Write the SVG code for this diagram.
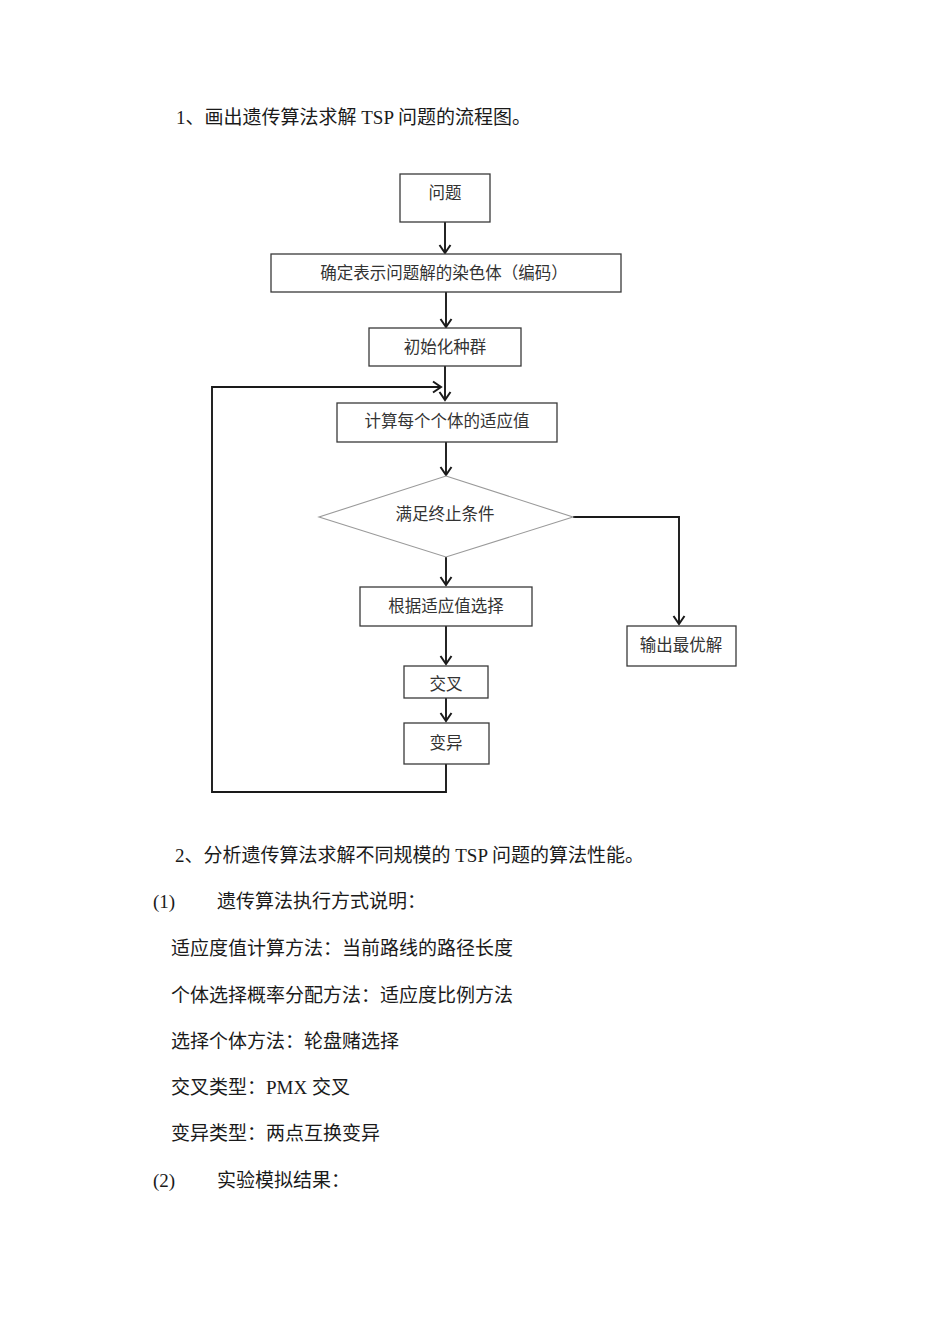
<svg xmlns="http://www.w3.org/2000/svg" width="950" height="1344" viewBox="0 0 950 1344">
  <defs>
    <style>
      .box { fill: #ffffff; stroke: #3a3a3a; stroke-width: 1.3; }
      .dia { fill: #ffffff; stroke: #9a9a9a; stroke-width: 1.1; }
      .lbl { font-family: "Liberation Serif", "Noto Sans CJK SC", serif; font-size: 16.5px; fill: #333333; text-anchor: middle; }
      .body { font-family: "Liberation Serif", "Noto Sans CJK SC", serif; font-size: 19px; fill: #1a1a1a; }
      .conn { fill: none; stroke: #1a1a1a; stroke-width: 1.9; }
    </style>
    <marker id="arr" markerUnits="userSpaceOnUse" markerWidth="14" markerHeight="14" viewBox="-10 -7 12 14" refX="0" refY="0" orient="auto">
      <path d="M-8,-5.5 L0,0 L-8,5.5" fill="none" stroke="#1a1a1a" stroke-width="2"/>
    </marker>
  </defs>
  <rect width="950" height="1344" fill="#ffffff"/>

  <text class="body" x="176" y="123.5">1、画出遗传算法求解 TSP 问题的流程图。</text>

  <g id="connectors">
    <line class="conn" x1="445" y1="222" x2="445" y2="253" marker-end="url(#arr)"/>
    <line class="conn" x1="446" y1="292" x2="446" y2="327" marker-end="url(#arr)"/>
    <line class="conn" x1="445" y1="366" x2="445" y2="400" marker-end="url(#arr)"/>
    <polyline class="conn" points="446,764 446,792 212,792 212,387 441,387" marker-end="url(#arr)"/>
    <line class="conn" x1="446" y1="442" x2="446" y2="475" marker-end="url(#arr)"/>
    <line class="conn" x1="446" y1="557" x2="446" y2="585" marker-end="url(#arr)"/>
    <line class="conn" x1="446" y1="626" x2="446" y2="664" marker-end="url(#arr)"/>
    <line class="conn" x1="446" y1="698" x2="446" y2="721" marker-end="url(#arr)"/>
    <polyline class="conn" points="573,517 679,517 679,624" marker-end="url(#arr)"/>
  </g>

  <g id="n-problem">
    <rect class="box" x="400" y="174" width="90" height="48"/>
    <text class="lbl" x="445" y="199">问题</text>
  </g>
  <g id="n-encode">
    <rect class="box" x="271" y="254" width="350" height="38"/>
    <text class="lbl" x="444" y="279">确定表示问题解的染色体（编码）</text>
  </g>
  <g id="n-init">
    <rect class="box" x="369" y="328" width="152" height="38"/>
    <text class="lbl" x="445" y="353">初始化种群</text>
  </g>
  <g id="n-fitness">
    <rect class="box" x="337" y="403" width="220" height="39"/>
    <text class="lbl" x="447" y="427">计算每个个体的适应值</text>
  </g>
  <g id="n-cond">
    <polygon class="dia" points="446,476 573,517 446,557 319,517"/>
    <text class="lbl" x="445" y="520">满足终止条件</text>
  </g>
  <g id="n-select">
    <rect class="box" x="360" y="587" width="172" height="39"/>
    <text class="lbl" x="446" y="612">根据适应值选择</text>
  </g>
  <g id="n-output">
    <rect class="box" x="627" y="626" width="109" height="40"/>
    <text class="lbl" x="681" y="651">输出最优解</text>
  </g>
  <g id="n-cross">
    <rect class="box" x="404" y="666" width="84" height="32"/>
    <text class="lbl" x="446" y="690">交叉</text>
  </g>
  <g id="n-mutate">
    <rect class="box" x="404" y="723" width="85" height="41"/>
    <text class="lbl" x="446" y="749">变异</text>
  </g>

  <text class="body" x="175" y="862">2、分析遗传算法求解不同规模的 TSP 问题的算法性能。</text>
  <text class="body" x="153" y="908">(1)</text>
  <text class="body" x="217" y="908">遗传算法执行方式说明：</text>
  <text class="body" x="171" y="955">适应度值计算方法：当前路线的路径长度</text>
  <text class="body" x="171" y="1001.5">个体选择概率分配方法：适应度比例方法</text>
  <text class="body" x="171" y="1048">选择个体方法：轮盘赌选择</text>
  <text class="body" x="171" y="1093.5">交叉类型：PMX 交叉</text>
  <text class="body" x="171" y="1140">变异类型：两点互换变异</text>
  <text class="body" x="153" y="1186.5">(2)</text>
  <text class="body" x="217" y="1186.5">实验模拟结果：</text>
</svg>
